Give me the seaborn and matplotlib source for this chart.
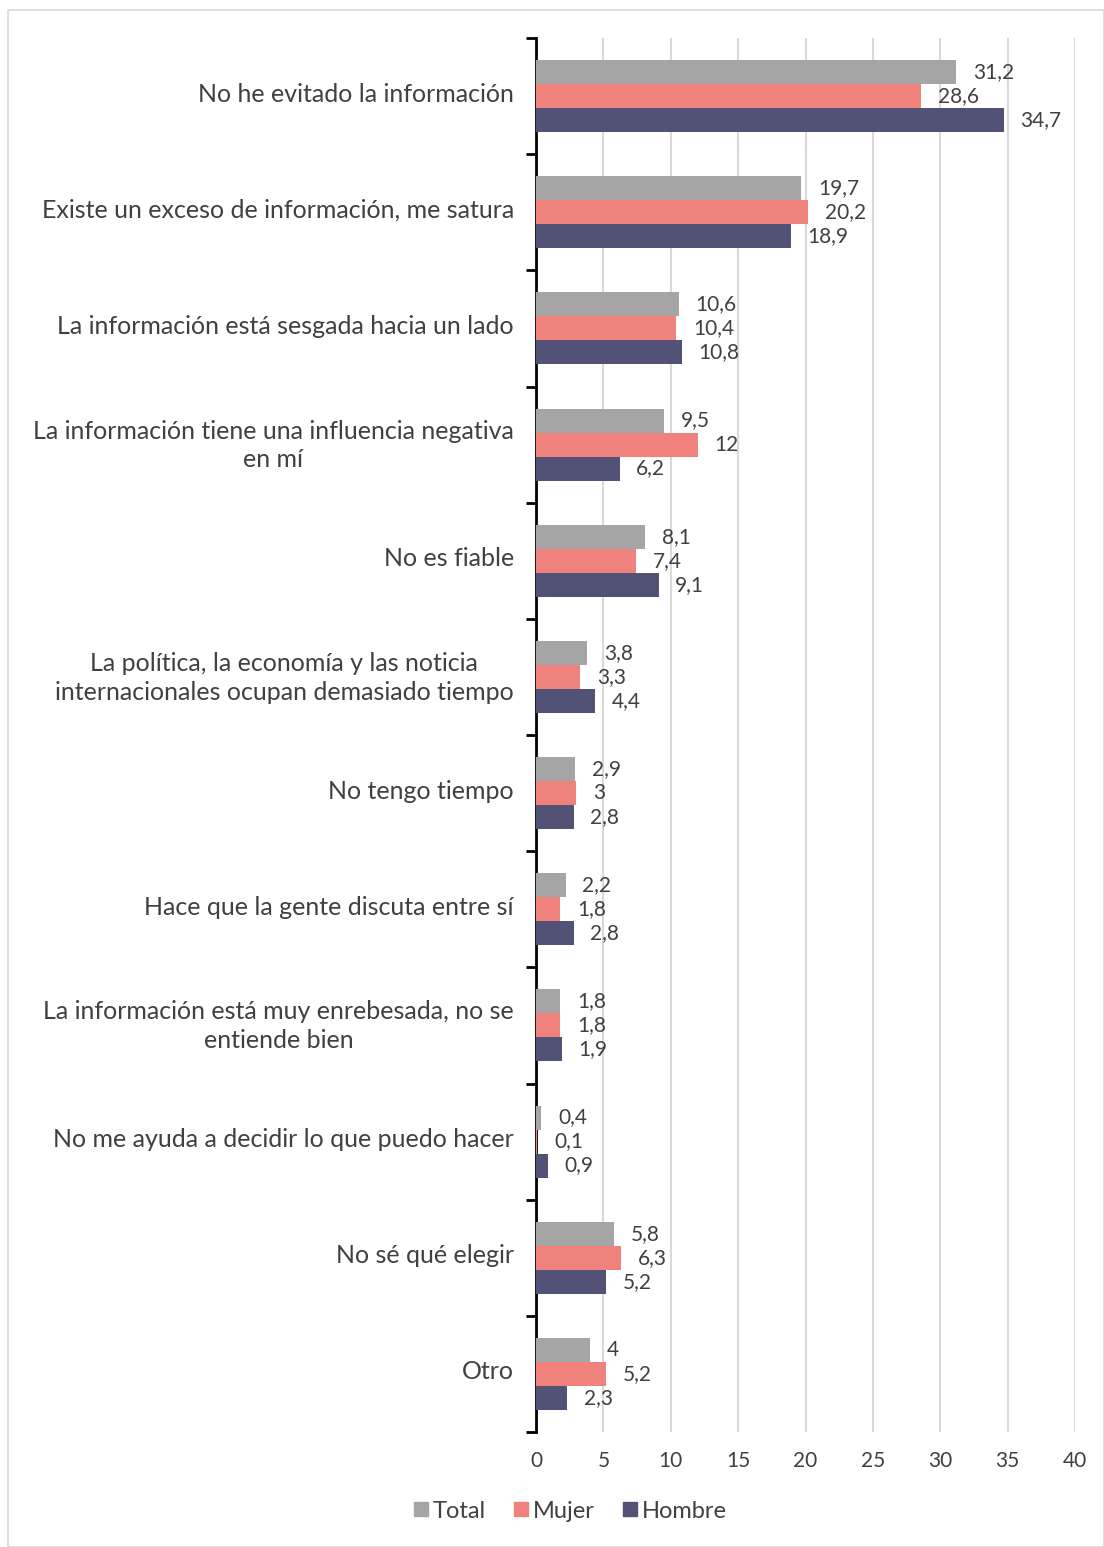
import numpy as np
import pandas as pd
import matplotlib
matplotlib.use("Agg")
import matplotlib.pyplot as plt
import matplotlib.transforms as mtransforms
import seaborn as sns
from matplotlib.patches import Rectangle
from matplotlib.lines import Line2D

categories = [
    "No he evitado la información",
    "Existe un exceso de información, me satura",
    "La información está sesgada hacia un lado",
    "La información tiene una influencia negativa\nen mí",
    "No es fiable",
    "La política, la economía y las noticia\ninternacionales ocupan demasiado tiempo",
    "No tengo tiempo",
    "Hace que la gente discuta entre sí",
    "La información está muy enrebesada, no se\nentiende bien",
    "No me ayuda a decidir lo que puedo hacer",
    "No sé qué elegir",
    "Otro",
]
total = [31.2, 19.7, 10.6, 9.5, 8.1, 3.8, 2.9, 2.2, 1.8, 0.4, 5.8, 4]
mujer = [28.6, 20.2, 10.4, 12, 7.4, 3.3, 3, 1.8, 1.8, 0.1, 6.3, 5.2]
hombre = [34.7, 18.9, 10.8, 6.2, 9.1, 4.4, 2.8, 2.8, 1.9, 0.9, 5.2, 2.3]
series = ["Total", "Mujer", "Hombre"]
x_ticks = [0, 5, 10, 15, 20, 25, 30, 35, 40]

colors = {"Total": "#A5A5A5", "Mujer": "#F0827E", "Hombre": "#525276"}
text_color = "#404040"

rows = []
for name, vals in zip(series, [total, mujer, hombre]):
    for c, v in zip(categories, vals):
        rows.append({"cat": c, "serie": name, "valor": v})
df = pd.DataFrame(rows)

sns.set_theme(style="white")
plt.rcParams["font.family"] = ["Lato", "DejaVu Sans"]

fig = plt.figure(figsize=(11.04, 15.47), dpi=100)
ax = fig.add_axes([536 / 1104, 1 - 1432 / 1547, (1075 - 536) / 1104, (1432 - 38) / 1547])

sns.barplot(data=df, y="cat", x="valor", hue="serie", order=categories,
            hue_order=series, palette=colors, orient="h", width=0.62,
            saturation=1, ax=ax, legend=False, errorbar=None, zorder=3,
            linewidth=0, edgecolor="none")

for cont in ax.containers:
    labels = [("%g" % v).replace(".", ",") for v in cont.datavalues]
    ax.bar_label(cont, labels=labels, padding=12, fontsize=15, color=text_color)

ax.set_xlim(0, 40)
ax.set_ylim(len(categories) - 0.5, -0.5)
ax.set_xticks(x_ticks)
ax.set_xticklabels([str(t) for t in x_ticks], fontsize=15, color=text_color)
ax.tick_params(axis="x", length=0, pad=14)
ax.xaxis.grid(True, color="#D9D9D9", linewidth=1.5, zorder=0)
ax.set_axisbelow(True)

ax.set_yticks(range(len(categories)))
ax.set_yticklabels(categories, fontsize=18, color=text_color,
                   multialignment="center", linespacing=1.3)
ax.set_yticks(np.arange(-0.5, len(categories), 1.0), minor=True)
ax.tick_params(axis="y", which="major", length=0, pad=16)
ax.tick_params(axis="y", which="minor", left=True, length=7, width=2,
               color="black", direction="out")
shift = mtransforms.ScaledTranslation(0, 4 / 100, fig.dpi_scale_trans)
for lbl in ax.get_yticklabels():
    lbl.set_transform(lbl.get_transform() + shift)

for s in ["top", "right", "bottom"]:
    ax.spines[s].set_visible(False)
ax.spines["left"].set_color("black")
ax.spines["left"].set_linewidth(2)
ax.set_xlabel("")
ax.set_ylabel("")

handles = [Line2D([0], [0], marker="s", linestyle="", markersize=10,
                  markerfacecolor=colors[s], markeredgecolor=colors[s]) for s in series]
fig.legend(handles, series, loc="center", bbox_to_anchor=(568 / 1104, 1 - 1511 / 1547),
           ncol=3, frameon=False, fontsize=17, labelcolor=text_color,
           handletextpad=0.0, columnspacing=1.0, handlelength=1.0)

fig.patches.append(Rectangle((8 / 1104, 0), 1 - 8 / 1104, 1 - 10 / 1547,
                             transform=fig.transFigure, fill=False,
                             edgecolor="#D9D9D9", linewidth=1.2))

fig.savefig("out.png", dpi=100)
